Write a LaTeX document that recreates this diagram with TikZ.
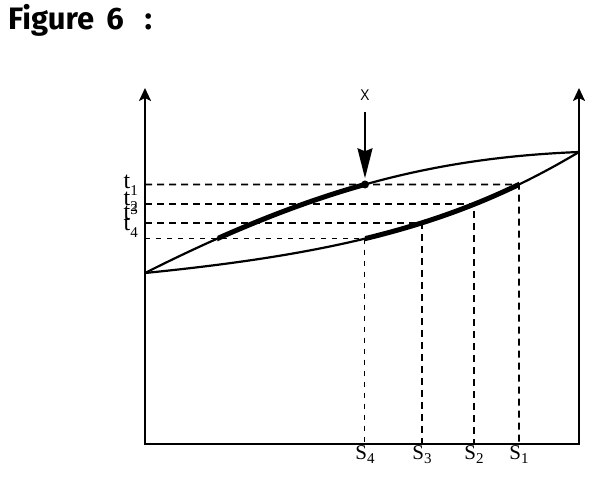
\documentclass[tikz,border=0pt]{standalone}
\usepackage{fontspec}
\setmainfont{Liberation Serif}
\newfontfamily\headfont{Fira Sans}
\newfontfamily\markfont{Open Sans}
\usetikzlibrary{positioning, arrows.meta, intersections}
\newcommand{\idx}[2]{\raisebox{#1}{\fontsize{15}{15}\selectfont #2}}
\tikzstyle{axisline} = [line width=2.4pt, line join=miter, {Stealth[length=13pt, width=12pt, inset=3pt]}-{Stealth[length=13pt, width=12pt, inset=3pt]}]
\tikzstyle{curveline} = [line width=2.2pt]
\tikzstyle{thickpart} = [line width=5pt]
\tikzstyle{guide} = [line width=1.6pt, dash pattern=on 7pt off 5pt]
\tikzstyle{guidethin} = [line width=1pt, dash pattern=on 5pt off 6pt]
\tikzstyle{pointer} = [line width=2pt, -{Stealth[length=30pt, width=15pt, inset=3pt]}]
\tikzstyle{tlabel} = [anchor=base east, inner sep=0pt, font=\fontsize{24}{24}\selectfont]
\tikzstyle{slabel} = [anchor=base, inner sep=0pt, font=\fontsize{21}{21}\selectfont]

\begin{document}
\begin{tikzpicture}[x=1pt, y=1pt]
    \useasboundingbox (0,0) rectangle (596,484);

        % Title
        \node (title) [anchor=base west, inner sep=0pt] at (8,454) {\headfont\bfseries\fontsize{31}{31}\selectfont Figure\hspace{12pt}6\hspace{21pt}:};

        % Frame
        \coordinate (O) at (145,40);
        \coordinate (R) at (579,40);
        \coordinate (ltop) at (145,396);
        \coordinate (rtop) at (579,396);
        \coordinate (a) at (145,211);
        \coordinate (b) at (579,332);

        % Curves (paths only, drawn later)
        \path [name path=upper] (a) .. controls (310,294) and (430,326) .. (b);
        \path [name path=lower] (a) .. controls (346,231) and (462,262) .. (b);

        % Crossings
        \path [name path=v4] (365,0) -- (365,484);
        \path [name path=v3] (422,0) -- (422,484);
        \path [name path=v2] (474,0) -- (474,484);
        \path [name intersections={of=upper and v4, by=xdot}];
        \path [name intersections={of=lower and v4, by=p4}];
        \path [name intersections={of=lower and v3, by=p3}];
        \path [name intersections={of=lower and v2, by=p2}];
        \path [name path=h1] (O |- xdot) -- (R |- xdot);
        \path [name path=h4] (O |- p4) -- (R |- p4);
        \path [name intersections={of=lower and h1, by=p1}];
        \path [name intersections={of=upper and h4, by=q4}];

        % Dashed guides
        \draw [guide] (O |- xdot) -- (p1) -- (p1 |- O);
        \draw [guide] (O |- p2) -- (p2) -- (p2 |- O);
        \draw [guide] (O |- p3) -- (p3) -- (p3 |- O);
        \draw [guidethin] (O |- p4) -- (p4) -- (p4 |- O);

        % Axes
        \draw [axisline] (ltop) -- (O) -- (R) -- (rtop);

        % Curves
        \draw [curveline] (a) .. controls (310,294) and (430,326) .. (b);
        \draw [curveline] (a) .. controls (346,231) and (462,262) .. (b);
        \begin{scope}
            \clip (q4 |- O) rectangle (xdot |- ltop);
            \draw [thickpart] (a) .. controls (310,294) and (430,326) .. (b);
        \end{scope}
        \begin{scope}
            \clip (p4 |- O) rectangle (p1 |- ltop);
            \draw [thickpart] (a) .. controls (346,231) and (462,262) .. (b);
        \end{scope}

        % Point X
        \node (dot) [circle, fill, inner sep=0pt, minimum size=8pt] at (xdot) {};
        \node (xlbl) [above=76pt of dot, font=\markfont\fontsize{15}{15}\selectfont] {X};
        \draw [pointer] ([yshift=-8pt]xlbl.south) -- ([yshift=2pt]dot.north);

        % Labels
        \node (t1) [tlabel, xshift=-7pt, yshift=-4pt] at (O |- xdot) {t\idx{-7pt}{1}};
        \node (t2) [tlabel, xshift=-7pt, yshift=-1pt] at (O |- p2) {t\idx{-6pt}{2}};
        \node (t3) [tlabel, xshift=-7pt, yshift=3pt] at (O |- p3) {t\idx{5pt}{3}};
        \node (t4) [tlabel, xshift=-7pt, yshift=8pt] at (O |- p4) {t\idx{-7pt}{4}};
        \node (s4) [slabel, yshift=-15pt] at (p4 |- O) {S\idx{-4pt}{4}};
        \node (s3) [slabel, yshift=-15pt] at (p3 |- O) {S\idx{-4pt}{3}};
        \node (s2) [slabel, yshift=-15pt] at (p2 |- O) {S\idx{-4pt}{2}};
        \node (s1) [slabel, yshift=-15pt] at (p1 |- O) {S\idx{-4pt}{1}};

\end{tikzpicture}
\end{document}
